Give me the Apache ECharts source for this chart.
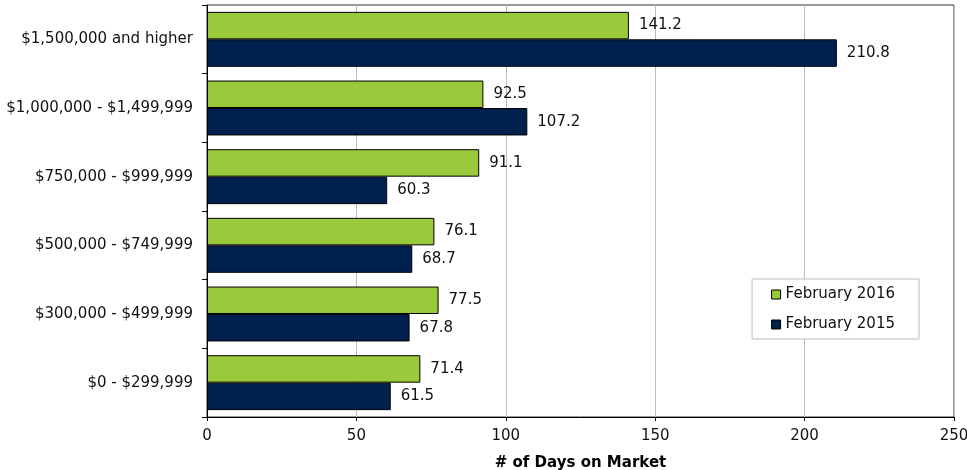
<!DOCTYPE html>
<html>
<head>
<meta charset="utf-8">
<script src="https://cdn.jsdelivr.net/npm/echarts@6/dist/echarts.min.js"></script>
<style>
  html, body { margin: 0; padding: 0; background: #fff; }
  #chart { width: 967px; height: 470px; }
</style>
</head>
<body>
<div id="chart"></div>
<script>
// Price ranges, listed top to bottom
const categories = [
  '$1,500,000 and higher',
  '$1,000,000 - $1,499,999',
  '$750,000 - $999,999',
  '$500,000 - $749,999',
  '$300,000 - $499,999',
  '$0 - $299,999'
];
const seriesNames = ['February 2016', 'February 2015'];
const days2016 = [141.2, 92.5, 91.1, 76.1, 77.5, 71.4];
const days2015 = [210.8, 107.2, 60.3, 68.7, 67.8, 61.5];
const xTicks = [0, 50, 100, 150, 200, 250];

const FONT = '"DejaVu Sans", "Liberation Sans", Arial, sans-serif';
const FS = 15;

const chart = echarts.init(document.getElementById('chart'));

function barSeries(name, data, color) {
  return {
    name: name,
    type: 'bar',
    data: data,
    barGap: '0%',
    barCategoryGap: '20%',
    itemStyle: { color: color, borderColor: '#000', borderWidth: 1 },
    label: {
      show: true,
      position: 'right',
      distance: 10,
      color: '#111',
      fontFamily: FONT,
      fontSize: FS,
      formatter: p => p.value.toFixed(1)
    }
  };
}

chart.setOption({
  animation: false,
  textStyle: { fontFamily: FONT },
  grid: {
    left: 207, right: 13, top: 5, bottom: 53,
    outerBoundsMode: 'none',
    containLabel: false,
    show: true, borderColor: '#333', borderWidth: 1
  },
  legend: {
    orient: 'vertical',
    right: 48,
    top: 279,
    padding: [8, 24, 7, 19],
    itemGap: 15,
    itemWidth: 9,
    itemHeight: 9,
    borderColor: '#bbb',
    borderWidth: 1,
    backgroundColor: '#fff',
    icon: 'rect',
    textStyle: { fontFamily: FONT, fontSize: FS, color: '#111' },
    data: seriesNames.map(n => ({ name: n, itemStyle: { borderColor: '#000', borderWidth: 1 } }))
  },
  xAxis: {
    type: 'value',
    min: xTicks[0],
    max: xTicks[xTicks.length - 1],
    interval: xTicks[1] - xTicks[0],
    name: '# of Days on Market',
    nameLocation: 'middle',
    nameGap: 39,
    nameTextStyle: { fontFamily: FONT, fontSize: FS, fontWeight: 'bold', color: '#000' },
    axisLine: { show: true, lineStyle: { color: '#000' } },
    axisTick: { show: true, length: 4, lineStyle: { color: '#000' } },
    axisLabel: { color: '#111', fontSize: FS, fontFamily: FONT, margin: 12 },
    splitLine: { show: true, lineStyle: { color: '#bbb' } }
  },
  yAxis: {
    type: 'category',
    inverse: true,
    data: categories,
    axisLine: { show: true, lineStyle: { color: '#000' } },
    axisTick: { show: true, length: 5, lineStyle: { color: '#000' } },
    axisLabel: { color: '#111', fontSize: FS, fontFamily: FONT, margin: 14 }
  },
  series: [
    barSeries(seriesNames[0], days2016, '#9aca3c'),
    barSeries(seriesNames[1], days2015, '#00204e')
  ]
});
</script>
</body>
</html>
